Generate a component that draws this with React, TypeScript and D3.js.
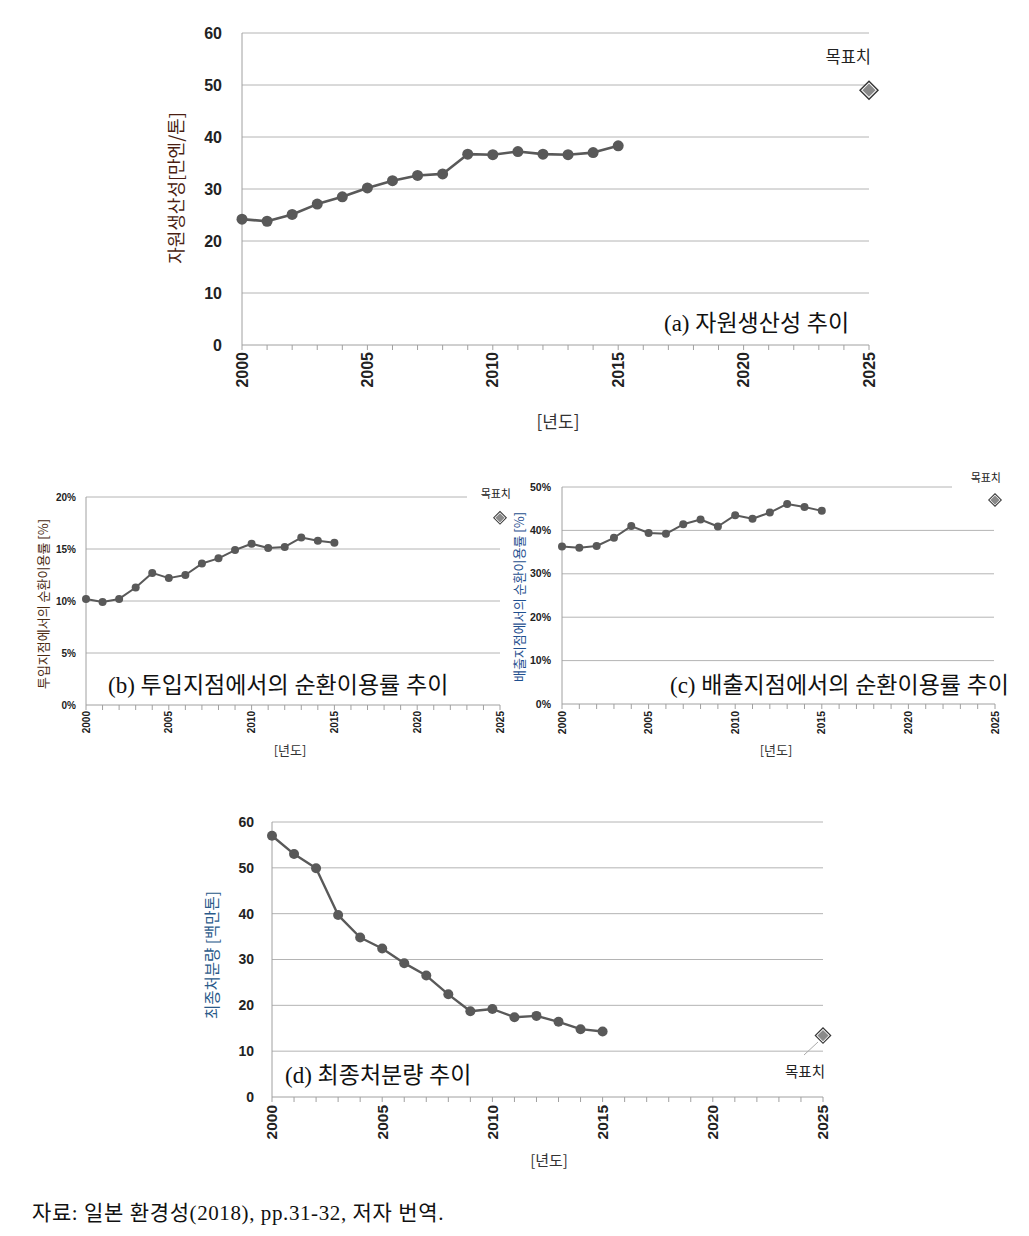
import React from "react";
import * as d3 from "d3";

const years = [2000, 2001, 2002, 2003, 2004, 2005, 2006, 2007, 2008, 2009, 2010, 2011, 2012, 2013, 2014, 2015];
const xTickLabels = [2000, 2005, 2010, 2015, 2020, 2025];
const targetYear = 2025;

// (a) 자원생산성 [만엔/톤]
const productivity = [24.2, 23.8, 25.1, 27.1, 28.5, 30.2, 31.6, 32.6, 32.9, 36.7, 36.6, 37.2, 36.7, 36.6, 37.0, 38.3];
const productivityTarget = 49;
// (b) 투입지점에서의 순환이용률 [%]
const inputRate = [10.2, 9.9, 10.2, 11.3, 12.7, 12.2, 12.5, 13.6, 14.1, 14.9, 15.5, 15.1, 15.2, 16.1, 15.8, 15.6];
const inputTarget = 18;
// (c) 배출지점에서의 순환이용률 [%]
const outputRate = [36.3, 36.0, 36.4, 38.3, 41.0, 39.4, 39.2, 41.4, 42.5, 40.9, 43.5, 42.7, 44.1, 46.1, 45.4, 44.5];
const outputTarget = 47;
// (d) 최종처분량 [백만톤]
const disposal = [57.0, 53.0, 49.9, 39.7, 34.8, 32.4, 29.2, 26.5, 22.4, 18.7, 19.2, 17.4, 17.7, 16.4, 14.8, 14.3];
const disposalTarget = 13.4;

const SANS = "'Liberation Sans', Arial, 'Noto Sans CJK KR', sans-serif";
const KSANS = "'Noto Sans CJK KR', sans-serif";
const SERIF = "'Liberation Serif', 'DejaVu Serif', 'Noto Sans CJK KR', serif";

type Cfg = {
  values: number[];
  target: number;
  left: number; right: number; top: number; bottom: number;
  yMax: number; yStep: number; pct: boolean;
  gridRight: number; topGridRight: number;
  yTickSize: number; yTickGap: number;
  xTickSize: number; xTickGap: number;
  yLabel: string; yLabelX: number; yLabelY: number; yLabelSize: number; yLabelColor: string;
  title: string; titleX: number; titleY: number; titleSize: number;
  yearX: number; yearY: number; yearSize: number;
  goalX: number; goalY: number; goalSize: number; goalAnchor: string;
  r: number; lw: number; dia: number;
  leader?: [number, number, number, number];
};

const Panel = ({ c }: { c: Cfg }) => {
  const x = d3.scaleLinear().domain([2000, 2025]).range([c.left, c.right]);
  const y = d3.scaleLinear().domain([0, c.yMax]).range([c.bottom, c.top]);
  const yTicks = y.ticks(Math.round(c.yMax / c.yStep)).filter((t) => Math.abs(t / c.yStep - Math.round(t / c.yStep)) < 1e-6);
  const allYears = d3.range(2000, 2026);
  const line = d3
    .line<number>()
    .x((_, i) => x(years[i]))
    .y((d) => y(d));
  const tx = x(targetYear);
  const ty = y(c.target);
  const sq = (h: number) => `M${tx},${ty - h}L${tx + h},${ty}L${tx},${ty + h}L${tx - h},${ty}Z`;
  return (
    <g>
      {yTicks
        .filter((t) => t > 0)
        .map((t) => (
          <line
            key={"g" + t}
            x1={c.left}
            x2={t === c.yMax ? c.topGridRight : c.gridRight}
            y1={y(t)}
            y2={y(t)}
            stroke="#b4b4b4"
            strokeWidth={1}
          />
        ))}
      <line x1={c.left} x2={c.left} y1={c.top} y2={c.bottom} stroke="#a0a0a0" />
      <line x1={c.left} x2={c.right} y1={c.bottom} y2={c.bottom} stroke="#a0a0a0" />
      {allYears.map((yr) => (
        <line key={"t" + yr} x1={x(yr)} x2={x(yr)} y1={c.bottom} y2={c.bottom + 5} stroke="#a0a0a0" />
      ))}
      {yTicks.map((t) => (
        <text
          key={"yl" + t}
          x={c.left - c.yTickGap}
          y={y(t)}
          dy="0.35em"
          textAnchor="end"
          fontFamily={SANS}
          fontWeight="bold"
          fontSize={c.yTickSize}
          fill="#222"
        >
          {c.pct ? `${t}%` : t}
        </text>
      ))}
      {xTickLabels.map((yr) => (
        <text
          key={"xl" + yr}
          transform={`translate(${x(yr)},${c.bottom + c.xTickGap}) rotate(-90)`}
          dy="0.35em"
          textAnchor="end"
          fontFamily={SANS}
          fontWeight="bold"
          fontSize={c.xTickSize}
          fill="#222"
        >
          {yr}
        </text>
      ))}
      <path d={line(c.values) || ""} fill="none" stroke="#595959" strokeWidth={c.lw} strokeLinejoin="round" />
      {c.values.map((v, i) => (
        <circle key={"p" + i} cx={x(years[i])} cy={y(v)} r={c.r} fill="#595959" />
      ))}
      {c.leader && (
        <line x1={c.leader[0]} y1={c.leader[1]} x2={c.leader[2]} y2={c.leader[3]} stroke="#aaa" strokeWidth={1} />
      )}
      <path d={sq(c.dia)} fill="#333" />
      <path d={sq(c.dia * 0.8)} fill="#fff" />
      <path d={sq(c.dia * 0.66)} fill="#8a8a8a" />
      <text x={c.goalX} y={c.goalY} textAnchor={c.goalAnchor as any} fontFamily={KSANS} fontSize={c.goalSize} fill="#222">
        목표치
      </text>
      <text
        transform={`translate(${c.yLabelX},${c.yLabelY}) rotate(-90)`}
        textAnchor="middle"
        dy="0.35em"
        fontFamily={KSANS}
        fontSize={c.yLabelSize}
        fill={c.yLabelColor}
      >
        {c.yLabel}
      </text>
      <text x={c.titleX} y={c.titleY} fontFamily={SERIF} fontSize={c.titleSize} fill="#111">
        {c.title}
      </text>
      <text x={c.yearX} y={c.yearY} textAnchor="middle" fontFamily={KSANS} fontSize={c.yearSize} fill="#333">
        [년도]
      </text>
    </g>
  );
};

const panelA: Cfg = {
  values: productivity, target: productivityTarget,
  left: 242, right: 869, top: 33, bottom: 345,
  yMax: 60, yStep: 10, pct: false, gridRight: 869, topGridRight: 869,
  yTickSize: 16, yTickGap: 20, xTickSize: 16, xTickGap: 7,
  yLabel: "자원생산성[만엔/톤]", yLabelX: 177, yLabelY: 188, yLabelSize: 18, yLabelColor: "#4a1e12",
  title: "(a) 자원생산성 추이", titleX: 664, titleY: 331, titleSize: 23,
  yearX: 558, yearY: 428, yearSize: 17,
  goalX: 871, goalY: 63, goalSize: 16.5, goalAnchor: "end",
  r: 5.5, lw: 2.6, dia: 10,
};

const panelB: Cfg = {
  values: inputRate, target: inputTarget,
  left: 86, right: 500, top: 497, bottom: 705,
  yMax: 20, yStep: 5, pct: true, gridRight: 500, topGridRight: 467,
  yTickSize: 10, yTickGap: 10, xTickSize: 10, xTickGap: 6,
  yLabel: "투입지점에서의 순환이용률 [%]", yLabelX: 43, yLabelY: 604, yLabelSize: 13, yLabelColor: "#4a2a10",
  title: "(b) 투입지점에서의 순환이용률 추이", titleX: 108, titleY: 693, titleSize: 23,
  yearX: 290, yearY: 755, yearSize: 13,
  goalX: 511, goalY: 498, goalSize: 11, goalAnchor: "end",
  r: 4, lw: 2, dia: 7,
};

const panelC: Cfg = {
  values: outputRate, target: outputTarget,
  left: 562, right: 995, top: 487, bottom: 704,
  yMax: 50, yStep: 10, pct: true, gridRight: 994, topGridRight: 952,
  yTickSize: 10.5, yTickGap: 11, xTickSize: 10.5, xTickGap: 7,
  yLabel: "배출지점에서의 순환이용률 [%]", yLabelX: 519, yLabelY: 597, yLabelSize: 13, yLabelColor: "#1f4f8f",
  title: "(c) 배출지점에서의 순환이용률 추이", titleX: 670, titleY: 693, titleSize: 23,
  yearX: 776, yearY: 755, yearSize: 13,
  goalX: 1001, goalY: 482, goalSize: 11, goalAnchor: "end",
  r: 4, lw: 2, dia: 7,
};

const panelD: Cfg = {
  values: disposal, target: disposalTarget,
  left: 272, right: 823, top: 822, bottom: 1097,
  yMax: 60, yStep: 10, pct: false, gridRight: 823, topGridRight: 823,
  yTickSize: 14, yTickGap: 18, xTickSize: 15.5, xTickGap: 8,
  yLabel: "최종처분량 [백만톤]", yLabelX: 213, yLabelY: 955, yLabelSize: 15.5, yLabelColor: "#2a5a8a",
  title: "(d) 최종처분량 추이", titleX: 285, titleY: 1083, titleSize: 23,
  yearX: 549, yearY: 1166, yearSize: 15,
  goalX: 825, goalY: 1077, goalSize: 14.5, goalAnchor: "end",
  r: 5, lw: 2.4, dia: 8.5,
  leader: [804, 1055, 818, 1042],
};

export default function App() {
  return (
    <svg
      width={1029}
      height={1236}
      style={{ position: "absolute", left: 0, top: 0, background: "#fff" }}
      viewBox="0 0 1029 1236"
    >
      <rect width={1029} height={1236} fill="#fff" />
      <Panel c={panelA} />
      <Panel c={panelB} />
      <Panel c={panelC} />
      <Panel c={panelD} />
      <text x={32} y={1220} fontFamily={SERIF} fontSize={21} letterSpacing={0.6} fill="#111">
        자료: 일본 환경성(2018), pp.31-32, 저자 번역.
      </text>
    </svg>
  );
}
